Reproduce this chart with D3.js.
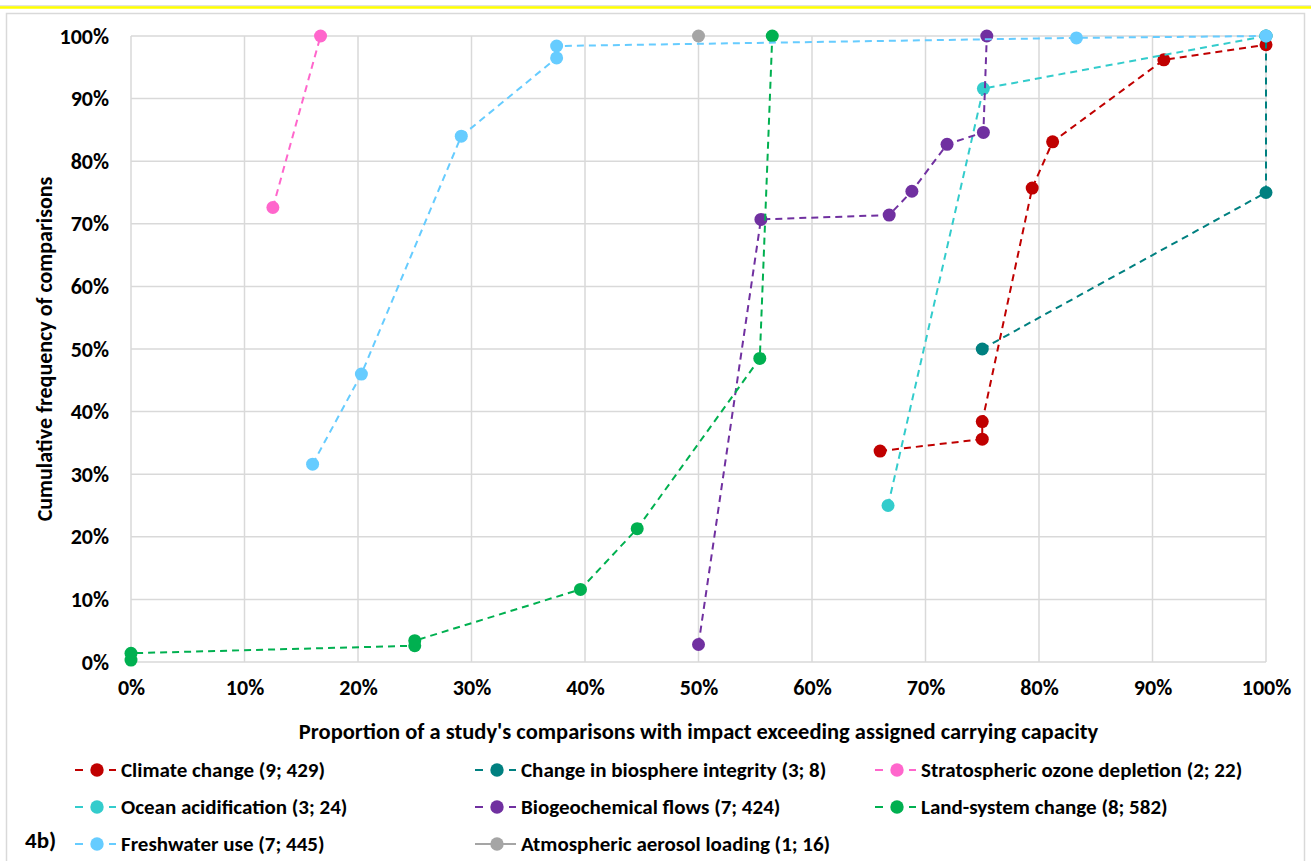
<!DOCTYPE html>
<html>
<head>
<meta charset="utf-8">
<script src="https://cdn.jsdelivr.net/npm/d3@7"></script>
<style>
body{margin:0;background:#fff;}
text{font-family:'Carlito','Liberation Sans Narrow','DejaVu Sans Condensed',sans-serif;fill:#000;}
</style>
</head>
<body>
<svg id="chart" width="1311" height="861"></svg>
<script>
'use strict'

// series values as [x %, y %]
var climate = [[66.0,33.7],[75.0,35.6],[75.0,38.4],[79.4,75.7],[81.2,83.1],[91.0,96.2],[100,98.6]];
var biosphere = [[75.0,50.0],[100,75.0],[100,100]];
var ozone = [[12.5,72.6],[16.7,100]];
var ocean = [[66.7,25.0],[75.1,91.6],[100,100]];
var biogeo = [[50.0,2.8],[55.5,70.7],[66.8,71.4],[68.8,75.2],[71.9,82.7],[75.1,84.6],[75.4,100]];
var land = [[0,0.3],[0,1.4],[25.0,2.6],[25.0,3.4],[39.6,11.6],[44.6,21.3],[55.4,48.5],[56.5,100]];
var fresh = [[16.0,31.6],[20.3,46.0],[29.1,84.0],[37.5,96.5],[37.5,98.4],[83.3,99.7],[100,100]];
var aerosol = [[50.0,100]];

var names = ['Climate change (9; 429)','Change in biosphere integrity (3; 8)','Stratospheric ozone depletion (2; 22)',
	'Ocean acidification (3; 24)','Biogeochemical flows (7; 424)','Land-system change (8; 582)',
	'Freshwater use (7; 445)','Atmospheric aerosol loading (1; 16)'];
var colors = ['#C00000','#008080','#FF66CC','#33CCCC','#7030A0','#00B050','#66CCFF','#A5A5A5'];
var seriesData = [climate,biosphere,ozone,ocean,biogeo,land,fresh,aerosol];

var xTicks = [0,10,20,30,40,50,60,70,80,90,100];
var yTicks = [0,10,20,30,40,50,60,70,80,90,100];

var svg = d3.select('#chart');

// frame
svg.append('rect').attr('x',-2).attr('y',-2).attr('width',1315).attr('height',8)
	.attr('fill','none').attr('stroke','#D9D9D9').attr('stroke-width',1.5);
svg.append('line').attr('x1',0).attr('x2',1311).attr('y1',7.5).attr('y2',7.5)
	.attr('stroke','#FFFF00').attr('stroke-width',2.5);
svg.append('rect').attr('x',6.5).attr('y',13.5).attr('width',1298).attr('height',860)
	.attr('fill','none').attr('stroke','#D9D9D9').attr('stroke-width',1.5);

var x = d3.scaleLinear().domain([0,100]).range([131,1266]);
var y = d3.scaleLinear().domain([0,100]).range([662,36]);

// grid
svg.append('g').selectAll('line').data(xTicks).enter().append('line')
	.attr('x1',function(d){return x(d);}).attr('x2',function(d){return x(d);})
	.attr('y1',y(0)).attr('y2',y(100))
	.attr('stroke','#D9D9D9').attr('stroke-width',1.5);
svg.append('g').selectAll('line').data(yTicks).enter().append('line')
	.attr('x1',x(0)).attr('x2',x(100))
	.attr('y1',function(d){return y(d);}).attr('y2',function(d){return y(d);})
	.attr('stroke','#D9D9D9').attr('stroke-width',1.5);

// axes (labels only)
var xAxis = svg.append('g').attr('transform','translate(0,'+(y(0)+22)+')')
	.call(d3.axisBottom(x).tickValues(xTicks).tickSize(0).tickFormat(function(d){return d+'%';}));
var yAxis = svg.append('g').attr('transform','translate('+(x(0)-22)+',0)')
	.call(d3.axisLeft(y).tickValues(yTicks).tickSize(0).tickFormat(function(d){return d+'%';}));
[xAxis,yAxis].forEach(function(a){
	a.select('.domain').remove();
	a.selectAll('text').attr('font-size',22).attr('font-weight','bold')
		.attr('font-family',"'Carlito','Liberation Sans Narrow','DejaVu Sans Condensed',sans-serif");
});
xAxis.selectAll('text').attr('dy','0.35em');
yAxis.selectAll('text').attr('x',0);

svg.append('text').attr('x',(x(0)+x(100))/2).attr('y',731).attr('dy','0.35em').attr('text-anchor','middle')
	.attr('font-size',22.5).attr('font-weight','bold')
	.text("Proportion of a study's comparisons with impact exceeding assigned carrying capacity");
svg.append('text').attr('transform','translate(44,'+y(50)+') rotate(-90)').attr('dy','0.35em').attr('text-anchor','middle')
	.attr('font-size',22).attr('font-weight','bold')
	.text('Cumulative frequency of comparisons');

// series
var line = d3.line().x(function(d){return x(d[0]);}).y(function(d){return y(d[1]);});
for(var c = 0;c<seriesData.length;c++){
	var g = svg.append('g');
	g.append('path').attr('d',line(seriesData[c])).attr('fill','none')
		.attr('stroke',colors[c]).attr('stroke-width',2).attr('stroke-dasharray','7,5');
	g.selectAll('circle').data(seriesData[c]).enter().append('circle')
		.attr('cx',function(d){return x(d[0]);}).attr('cy',function(d){return y(d[1]);})
		.attr('r',6.5).attr('fill',colors[c]);
}

// legend
var colX = [75,475,875];
var rowY = [770,807,844];
for(var c = 0;c<names.length;c++){
	var lx = colX[c%3], ly = rowY[Math.floor(c/3)];
	var lg = svg.append('g').attr('transform','translate('+lx+','+ly+')');
	if(c==7){
		lg.append('line').attr('x1',0).attr('x2',41).attr('y1',0).attr('y2',0)
			.attr('stroke',colors[c]).attr('stroke-width',2);
	}else{
		lg.append('line').attr('x1',0).attr('x2',8).attr('y1',0).attr('y2',0)
			.attr('stroke',colors[c]).attr('stroke-width',2);
		lg.append('line').attr('x1',34).attr('x2',41).attr('y1',0).attr('y2',0)
			.attr('stroke',colors[c]).attr('stroke-width',2);
	}
	lg.append('circle').attr('cx',22).attr('cy',0).attr('r',6.7).attr('fill',colors[c]);
	lg.append('text').attr('x',46).attr('y',0).attr('dy','0.35em')
		.attr('font-size',21).attr('font-weight','bold').text(names[c]);
}
svg.append('text').attr('x',25).attr('y',840).attr('dy','0.35em').attr('font-size',23).attr('font-weight','bold').text('4b)');
</script>
</body>
</html>
